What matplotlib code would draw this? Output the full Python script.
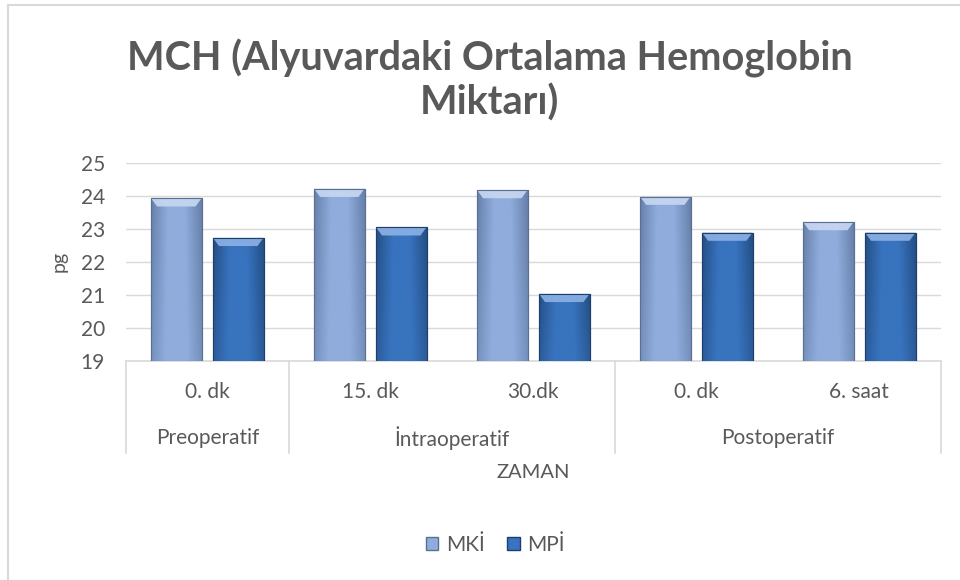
import numpy as np
import matplotlib
matplotlib.use("Agg")
import matplotlib.pyplot as plt
from matplotlib.patches import Polygon, Patch
from matplotlib.colors import LinearSegmentedColormap

# data
categories = ["0. dk", "15. dk", "30.dk", "0. dk", "6. saat"]
groups = ["Preoperatif", "İntraoperatif", "Postoperatif"]
group_sizes = [1, 2, 2]
series_names = ["MKİ", "MPİ"]
mki = [23.93, 24.22, 24.18, 23.98, 23.21]
mpi = [22.73, 23.05, 21.03, 22.89, 22.89]

title = "MCH (Alyuvardaki Ortalama Hemoglobin\nMiktarı)"
text_col = "#595959"
grid_col = "#D9D9D9"

plt.rcParams['font.family'] = ['Lato', 'DejaVu Sans']

fig = plt.figure(figsize=(9.6, 5.8), dpi=100)
ax = fig.add_axes([0.131, 0.378, 0.849, 0.341])

x = np.arange(len(categories))
width = 0.31
offset = 0.19

# colour ramps for the bevelled bars (edge, centre, top)
styles = [
    {"dark": "#6680AA", "mid": "#8FACDC", "top": "#C8D8F2", "edge": "#5A6F92"},
    {"dark": "#244F86", "mid": "#3873BE", "top": "#8DB2E6", "edge": "#1E3F6A"},
]


def gradient_bar(ax, xc, h, base, st):
    bars = ax.bar(xc, h - base, width, bottom=base, color=st["mid"],
                  edgecolor=st["edge"], linewidth=0.8, zorder=3)
    rect = bars[0]
    x0, x1 = rect.get_x(), rect.get_x() + rect.get_width()
    cmap = LinearSegmentedColormap.from_list("b", [st["dark"], st["mid"], st["mid"], st["dark"]])
    # horizontal shading plus darker bottom
    hx = np.linspace(0, 1, 60)
    vy = np.linspace(0, 1, 60)[:, None]
    img = hx[None, :] * (0.75 + 0.25 * vy) + 0.5 * (1 - (0.75 + 0.25 * vy))
    im = ax.imshow(img, cmap=cmap, extent=[x0, x1, base, h], origin="lower",
                   aspect="auto", zorder=3.5, vmin=0, vmax=1)
    im.set_clip_path(rect)
    # bevel at the top
    bh = 0.25
    bw = (x1 - x0) * 0.12
    top = Polygon([[x0, h], [x1, h], [x1 - bw, h - bh], [x0 + bw, h - bh]],
                  closed=True, facecolor=st["top"], edgecolor="none", zorder=4, alpha=0.9)
    ax.add_patch(top)
    ax.add_patch(Polygon([[x0, h], [x1, h], [x1, base], [x0, base]], closed=True,
                         facecolor="none", edgecolor=st["edge"], linewidth=0.8, zorder=4.5))


for vals, sgn, st in zip([mki, mpi], [-1, 1], styles):
    for xi, v in zip(x, vals):
        gradient_bar(ax, xi + sgn * offset, v, 19, st)

ax.set_xlim(-0.5, len(categories) - 0.5)
ax.set_ylim(19, 25)
ax.set_yticks(range(19, 26))
ax.tick_params(axis="y", length=0, labelsize=15, colors=text_col, pad=15)
ax.set_xticks([])
ax.yaxis.grid(True, color=grid_col, linewidth=1)
ax.set_axisbelow(True)
for s in ["left", "right", "top"]:
    ax.spines[s].set_visible(False)
ax.spines["bottom"].set_color(grid_col)
ax.spines["bottom"].set_linewidth(1.2)
ax.set_ylabel("pg", fontsize=14, color=text_col)
ax.yaxis.set_label_coords(-0.071, 0.5)

trans = ax.get_xaxis_transform()
for xi, c in zip(x, categories):
    ax.text(xi, -0.157, c, transform=trans, ha="center", va="center",
            fontsize=15, color=text_col)

start = -0.5
bounds = [start]
for g, n in zip(groups, group_sizes):
    ax.text(start + n / 2, -0.39, g, transform=trans, ha="center", va="center",
            fontsize=15, color=text_col)
    start += n
    bounds.append(start)
for b in bounds:
    ax.plot([b, b], [0, -0.465], transform=trans, color=grid_col, linewidth=1.2,
            clip_on=False)

ax.text(0.5, -0.566, "ZAMAN", transform=ax.transAxes, ha="center", va="center",
        fontsize=14.5, color=text_col)

fig.text(0.51, 0.862, title, ha="center", va="center", fontsize=28.5,
         fontweight="bold", color=text_col, linespacing=1.2)

handles = [Patch(facecolor=st["mid"], edgecolor=st["edge"]) for st in styles]
leg = fig.legend(handles, series_names, loc="center", bbox_to_anchor=(0.516, 0.06),
                 ncol=2, frameon=False, fontsize=15, handlelength=0.6, handleheight=0.6,
                 columnspacing=1.1, handletextpad=0.35)
for t in leg.get_texts():
    t.set_color(text_col)

# chart frame (only top and left edges visible in the crop)
fig.add_artist(plt.Line2D([0.0085, 1.0], [0.992, 0.992], color=grid_col, linewidth=1.5))
fig.add_artist(plt.Line2D([0.0085, 0.0085], [0.0, 0.992], color=grid_col, linewidth=1.5))

fig.savefig("out.png", dpi=100)
